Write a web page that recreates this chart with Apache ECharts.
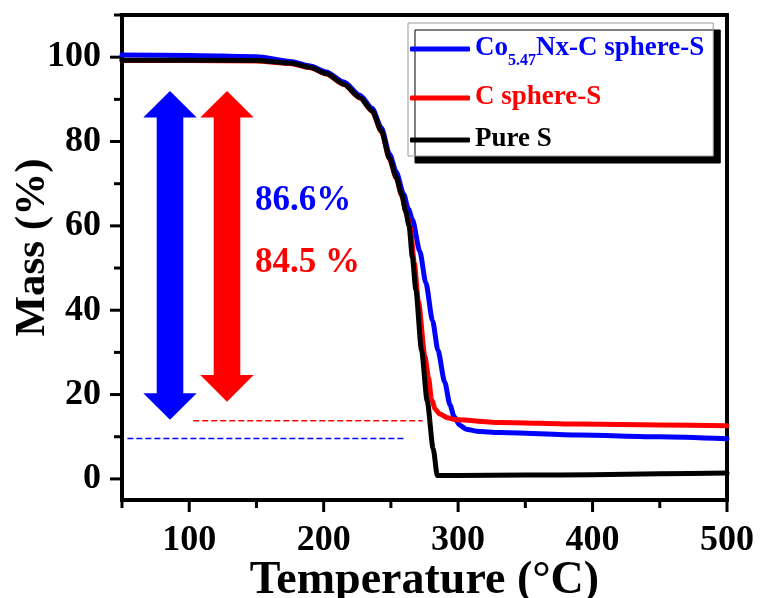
<!DOCTYPE html>
<html>
<head>
<meta charset="utf-8">
<script src="https://cdn.jsdelivr.net/npm/echarts@6/dist/echarts.min.js"></script>
<style>
html,body{margin:0;padding:0;background:#fff;}
#chart{width:761px;height:598px;}
</style>
</head>
<body>
<div id="chart"></div>
<script>
// ---------- data ----------
const seriesNames = ['Co5.47Nx-C sphere-S', 'C sphere-S', 'Pure S'];
const seriesColors = ['#0000FF', '#FF0000', '#000000'];

const blueT = [50, 100, 150, 175, 190, 202, 215, 227, 236, 243, 249, 254, 259.5, 263, 266, 271.5, 276, 281, 285, 290, 294, 297, 301, 306, 313.7, 331, 390, 450, 500];
const blueM = [100.5, 100.4, 100.1, 99.0, 97.9, 96.5, 94.1, 91.0, 87.9, 83.2, 77, 72.8, 67.5, 64, 61.5, 54, 46.5, 37.5, 30.5, 23, 17.5, 14.8, 12.8, 11.8, 11.3, 11.0, 10.4, 10.0, 9.5];

const redT = [50, 100, 150, 175, 190, 202, 215, 227, 236, 243, 249, 254, 258, 261.5, 264.5, 267.5, 270.5, 275.3, 278, 280.2, 283, 286.4, 292, 299, 331, 390, 450, 500];
const redM = [99.2, 99.2, 99.1, 98.5, 97.5, 96.0, 93.5, 90.3, 87.2, 82.3, 75.8, 71.3, 67.2, 63, 59.5, 51, 42, 29.1, 24, 18.9, 16.5, 15.4, 14.5, 14.0, 13.4, 13.0, 12.8, 12.6];

const blackT = [50, 100, 150, 175, 190, 202, 215, 227, 236, 243, 249, 254, 258, 261, 263.5, 266, 268.5, 272.8, 277, 281.5, 284.5, 300, 350, 400, 450, 500];
const blackM = [99.3, 99.3, 99.2, 98.6, 97.6, 96.1, 93.6, 90.4, 87.3, 82.5, 76, 71.5, 67.5, 63.5, 60, 52.5, 45, 30.5, 18.5, 7.1, 0.8, 0.8, 0.9, 1.0, 1.2, 1.4];

// dashed reference lines [xStart, xEnd, y]
const blueDash = [54, 261, 9.6];
const redDash = [103, 273.6, 13.8];

// double arrows: x, top, bottom
const arrowX = [85.7, 128.1];
const arrowTop = [92, 92];
const arrowBottom = [14.0, 18.3];
const arrowColors = ['#0000FF', '#FF0000'];

// annotation texts
const noteTexts = ['86.6%', '84.5 %'];
const noteX = [149, 149];
const noteY = [66.0, 51.1];
const noteColors = ['#0000FF', '#FF0000'];

// axes
const xMin = 50, xMax = 500;
const yMin = -5, yMax = 110;
const xMajorTicks = [100, 200, 300, 400, 500];
const xMinorTicks = [50, 150, 250, 350, 450];
const yMajorTicks = [0, 20, 40, 60, 80, 100];
const yMinorTicks = [10, 30, 50, 70, 90, 110];

// ---------- build ----------
const FONT = "'Liberation Serif', 'Times New Roman', serif";
const zip = (a, b) => a.map((v, i) => [v, b[i]]);

const chart = echarts.init(document.getElementById('chart'));

function lineSeries(name, T, M, color, z) {
  return {
    name: name, type: 'line', data: zip(T, M), showSymbol: false, symbol: 'none',
    smooth: 0.25, smoothMonotone: 'x', z: z,
    lineStyle: { color: color, width: 5, cap: 'round', join: 'round' },
    itemStyle: { color: color }
  };
}

function dashSeries(d, color) {
  return {
    type: 'line', data: [[d[0], d[2]], [d[1], d[2]]], symbol: 'none', silent: true,
    lineStyle: { color: color, width: 1.5, type: [6, 3] }, z: 1
  };
}

// tick rows: [value, kind(0=x,1=y), length]
const tickRows = []
  .concat(xMajorTicks.map(v => [v, 0, 10]))
  .concat(xMinorTicks.map(v => [v, 0, 6]))
  .concat(yMajorTicks.map(v => [v, 1, 10]))
  .concat(yMinorTicks.map(v => [v, 1, 6]));

const option = {
  animation: false,
  backgroundColor: '#fff',
  grid: {
    left: 122, right: 34, top: 15, bottom: 98,
    containLabel: false, outerBoundsMode: 'none',
    show: true, borderColor: '#000', borderWidth: 4, backgroundColor: 'transparent'
  },
  xAxis: {
    type: 'value', min: xMin, max: xMax, position: 'bottom',
    axisLine: { show: true, onZero: false, lineStyle: { color: '#000', width: 4 } },
    splitLine: { show: false },
    name: 'Temperature (\u00B0C)', nameLocation: 'middle', nameGap: 58, nameMoveOverlap: false,
    nameTextStyle: { fontFamily: FONT, fontWeight: 'bold', fontSize: 46, color: '#000' },
    axisTick: { show: false },
    axisLabel: { show: true, customValues: xMajorTicks, margin: 23, fontFamily: FONT, fontWeight: 'bold', fontSize: 36, color: '#000' }
  },
  yAxis: {
    type: 'value', min: yMin, max: yMax, position: 'left',
    axisLine: { show: true, onZero: false, lineStyle: { color: '#000', width: 4 } },
    splitLine: { show: false },
    name: 'Mass (%)', nameLocation: 'middle', nameGap: 68, nameMoveOverlap: false,
    nameTextStyle: { fontFamily: FONT, fontWeight: 'bold', fontSize: 43, color: '#000', padding: [0, 0, 0, 20] },
    axisTick: { show: false },
    axisLabel: { show: true, customValues: yMajorTicks, margin: 21, fontFamily: FONT, fontWeight: 'bold', fontSize: 36, color: '#000' }
  },
  legend: {
    orient: 'vertical', left: 408, top: 23, width: 305,
    padding: [12, 9, 3, 2], itemGap: 15, itemWidth: 60, itemHeight: 5,
    backgroundColor: '#fff', borderColor: '#999', borderWidth: 1,
    shadowColor: '#000', shadowBlur: 0, shadowOffsetX: 7, shadowOffsetY: 7,
    icon: 'roundRect',
    data: seriesNames.map((n, i) => ({ name: n, textStyle: { color: seriesColors[i] } })),
    formatter: function (name) {
      if (name === seriesNames[0]) return '{a|Co}{s|5.47}{a|Nx-C sphere-S}';
      return '{a|' + name + '}';
    },
    textStyle: {
      fontFamily: FONT, fontWeight: 'bold', fontSize: 27,
      rich: {
        a: { fontFamily: FONT, fontWeight: 'bold', fontSize: 27, verticalAlign: 'top', lineHeight: 28 },
        s: { fontFamily: FONT, fontWeight: 'bold', fontSize: 16, verticalAlign: 'top', lineHeight: 18, padding: [18, 0, 0, 0] }
      }
    }
  },
  series: [
    dashSeries(blueDash, '#0000FF'),
    dashSeries(redDash, '#FF0000'),
    {
      type: 'custom', silent: true, z: 1,
      data: arrowX.map((x, i) => [x, arrowTop[i], arrowBottom[i], i]),
      renderItem: function (params, api) {
        const x = api.value(0);
        const t = api.coord([x, api.value(1)]);
        const b = api.coord([x, api.value(2)]);
        const cx = t[0], hw = 13.3, hh = 26.7, hl = 26.7;
        const pts = [
          [cx, t[1]], [cx + hh, t[1] + hl], [cx + hw, t[1] + hl], [cx + hw, b[1] - hl],
          [cx + hh, b[1] - hl], [cx, b[1]], [cx - hh, b[1] - hl], [cx - hw, b[1] - hl],
          [cx - hw, t[1] + hl], [cx - hh, t[1] + hl]
        ];
        return { type: 'polygon', shape: { points: pts }, style: { fill: arrowColors[api.value(3)] } };
      }
    },
    {
      type: 'custom', silent: true, z: 3,
      data: noteX.map((x, i) => [x, noteY[i], i]),
      renderItem: function (params, api) {
        const p = api.coord([api.value(0), api.value(1)]);
        const i = api.value(2);
        return {
          type: 'text', x: p[0], y: p[1],
          style: {
            text: noteTexts[i], fill: noteColors[i], align: 'left', verticalAlign: 'middle',
            font: 'bold 35px ' + FONT
          }
        };
      }
    },
    {
      type: 'custom', silent: true, clip: false, z: 10,
      data: tickRows,
      renderItem: function (params, api) {
        const v = api.value(0), kind = api.value(1), len = api.value(2);
        let shape;
        if (kind === 0) {
          const p = api.coord([v, yMin]);
          shape = { x1: p[0], y1: p[1] + 2, x2: p[0], y2: p[1] + 2 + len };
        } else {
          const p = api.coord([xMin, v]);
          shape = { x1: p[0] - 2, y1: p[1], x2: p[0] - 2 - len, y2: p[1] };
        }
        return { type: 'line', shape: shape, style: { stroke: '#000', lineWidth: 3 } };
      }
    },
    lineSeries(seriesNames[0], blueT, blueM, seriesColors[0], 4),
    lineSeries(seriesNames[1], redT, redM, seriesColors[1], 5),
    lineSeries(seriesNames[2], blackT, blackM, seriesColors[2], 6)
  ]
};

chart.setOption(option);
</script>
</body>
</html>
